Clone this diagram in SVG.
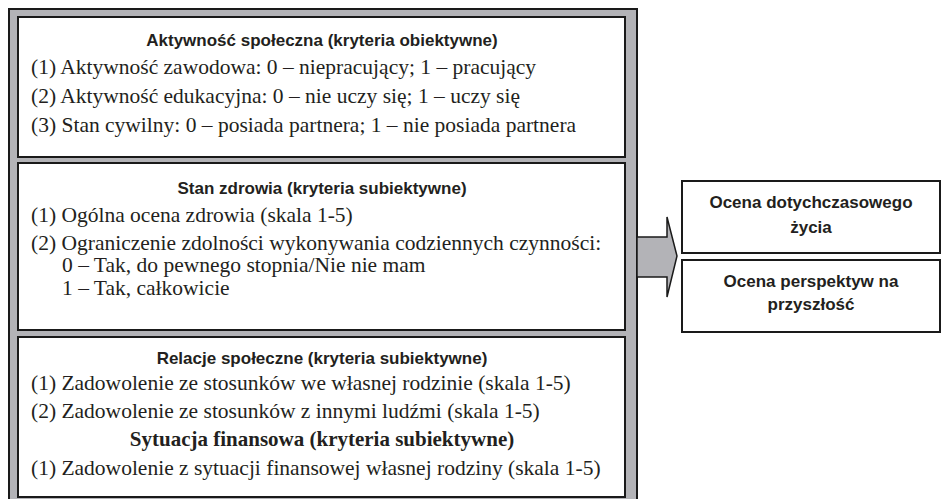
<svg xmlns="http://www.w3.org/2000/svg" width="948" height="499" viewBox="0 0 948 499">
<style>
.frame{fill:#b3b3b7;stroke:#1a1a1a;stroke-width:2}
.box{fill:#ffffff;stroke:#1a1a1a;stroke-width:2}
.h{font-family:"Liberation Sans",Arial,sans-serif;font-weight:bold;font-size:17px;fill:#231f20;text-anchor:middle}
.t{font-family:"Liberation Serif","Times New Roman",serif;font-size:21.5px;fill:#231f20}
.hs{font-family:"Liberation Serif","Times New Roman",serif;font-weight:bold;font-size:21px;fill:#231f20;text-anchor:middle}
</style>
<rect class="frame" x="9" y="9" width="628" height="505"/>
<g id="aktywnosc">
<rect class="box" x="18" y="17" width="607" height="140"/>
<text class="h" x="322" y="46">Aktywność społeczna (kryteria obiektywne)</text>
<text class="t" x="31" y="74">(1) Aktywność zawodowa: 0 – niepracujący; 1 – pracujący</text>
<text class="t" x="31" y="103">(2) Aktywność edukacyjna: 0 – nie uczy się; 1 – uczy się</text>
<text class="t" x="31" y="132">(3) Stan cywilny: 0 – posiada partnera; 1 – nie posiada partnera</text>
</g>
<g id="zdrowie">
<rect class="box" x="18" y="163" width="607" height="167"/>
<text class="h" x="322" y="194">Stan zdrowia (kryteria subiektywne)</text>
<text class="t" x="31" y="222">(1) Ogólna ocena zdrowia (skala 1-5)</text>
<text class="t" x="31" y="250">(2) Ograniczenie zdolności wykonywania codziennych czynności:</text>
<text class="t" x="62" y="272">0 – Tak, do pewnego stopnia/Nie nie mam</text>
<text class="t" x="62" y="295">1 – Tak, całkowicie</text>
</g>
<g id="relacje">
<rect class="box" x="18" y="337" width="607" height="160"/>
<text class="h" x="322" y="364">Relacje społeczne (kryteria subiektywne)</text>
<text class="t" x="31" y="390">(1) Zadowolenie ze stosunków we własnej rodzinie (skala 1-5)</text>
<text class="t" x="31" y="418">(2) Zadowolenie ze stosunków z innymi ludźmi (skala 1-5)</text>
<text class="hs" x="322" y="446">Sytuacja finansowa (kryteria subiektywne)</text>
<text class="t" x="31" y="475">(1) Zadowolenie z sytuacji finansowej własnej rodziny (skala 1-5)</text>
</g>
<g id="connectors">
<polygon points="637,237 667,237 667,217 677,256 667,297 667,277 637,277" fill="#b3b3b7" stroke="#1a1a1a" stroke-width="1.5" stroke-linejoin="miter"/>
</g>
<g id="ocena-zycia">
<rect class="box" x="682" y="181" width="258" height="72"/>
<text class="h" x="811" y="208">Ocena dotychczasowego</text>
<text class="h" x="811" y="233">życia</text>
</g>
<g id="ocena-perspektyw">
<rect class="box" x="682" y="260" width="258" height="72"/>
<text class="h" x="811" y="287">Ocena perspektyw na</text>
<text class="h" x="811" y="310">przyszłość</text>
</g>
</svg>
